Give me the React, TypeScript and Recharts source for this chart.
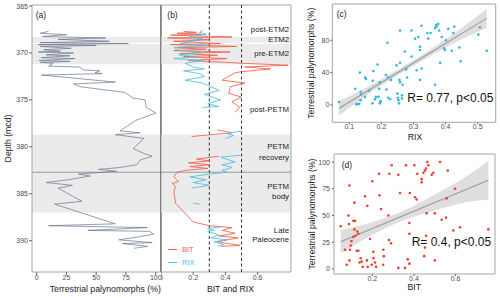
import React from 'react';
import {
  ScatterChart, ComposedChart, Scatter, Line, Area, XAxis, YAxis,
  ReferenceArea, ReferenceLine, Legend,
} from 'recharts';

const FONT = "'Liberation Sans', Arial, Helvetica, sans-serif";

// ---------- Panel (a): terrestrial palynomorphs (%) vs depth (mcd) ----------
const palyProfile: [number, number][] = [
  [367.7,10],[367.9,3],[368.05,25],[368.25,5],[368.4,58],[368.55,18],[368.75,61],[368.9,3],
  [369.0,77],[369.1,1.5],[369.2,50],[369.3,3],[369.5,29],[369.65,6],[369.8,20],[369.9,1.5],
  [370.0,31],[370.2,8],[370.3,28],[370.5,4],[370.6,32],[370.8,2],[370.9,28],[371.0,3],
  [371.1,14],[371.4,10],[371.5,36],[371.8,39],[371.9,53],[372.1,49],[372.2,55],[372.35,4],
  [373.1,66],[373.3,31],[373.6,37],[374.2,74],[374.8,81],[375.0,91],[375.8,92],[376.4,100],
  [377.0,87],[377.2,83],[378.3,70],[378.5,87],[378.7,66],[379.1,90],[380.2,81],[380.7,90],
  [381.0,97],[381.4,87],[381.9,84],[382.2,70],[382.4,52],[382.6,67],[382.9,35],[383.1,45],
  [383.5,27],[383.8,8],[384.1,30],[384.4,18],[385.8,38],[386.1,15],[388.2,66],[388.4,10],
  [388.6,93],[388.9,43],[389.0,95],[389.3,98],[389.6,85],[389.9,69],[390.2,97],[390.3,72],
  [390.6,93],[390.8,82],
];
const depthTicks = [365, 370, 375, 380, 385, 390];
const palyTicks = [0, 25, 50, 75, 100];

// ---------- Panel (b): BIT and RIX vs depth (null = gap) ----------
const bitProfile: ([number, number] | null)[] = [
  [367.7,0.14],[367.8,0.22],[367.9,0.10],[368.0,0.25],[368.1,0.06],[368.3,0.44],[368.4,0.04],
  [368.6,0.30],[368.75,0.08],[369.0,0.37],[369.1,0.06],[369.3,0.47],[369.45,0.10],[369.6,0.28],
  [369.75,0.08],[369.9,0.43],[370.05,0.12],[370.25,0.35],[370.4,0.14],[370.6,0.41],[370.8,0.17],
  [371.0,0.40],[371.1,0.51],[371.3,0.79],[371.5,0.52],[371.7,0.68],[372.0,0.50],[372.1,0.46],
  [372.9,0.38],[373.2,0.52],[373.6,0.43],[374.3,0.42],[374.7,0.50],[375.2,0.44],[375.8,0.49],
  [376.3,0.46],
  null,
  [378.2,0.35],[378.5,0.44],[378.9,0.19],
  null,
  [381.0,0.36],[381.3,0.22],[381.5,0.30],[381.7,0.17],[381.9,0.30],[382.1,0.18],[382.3,0.29],
  [382.5,0.15],[382.7,0.10],[383.2,0.08],[383.7,0.11],[383.9,0.07],[384.2,0.09],[384.8,0.08],
  [386.0,0.09],[388.0,0.20],[388.4,0.30],[388.6,0.44],[388.9,0.38],[389.2,0.46],[389.5,0.36],
  [389.7,0.48],[390.1,0.35],[390.5,0.49],[390.6,0.37],
];
const rixProfile: ([number, number] | null)[] = [
  [367.6,0.26],[367.8,0.24],[368.0,0.28],[368.3,0.17],[368.5,0.26],[369.0,0.12],[369.2,0.29],
  [369.4,0.08],[369.7,0.10],[369.9,0.25],[370.2,0.11],[370.4,0.22],[370.6,0.08],[370.8,0.26],
  [371.1,0.15],[371.5,0.20],[371.7,0.27],[371.9,0.14],[372.2,0.24],[372.5,0.27],[372.9,0.15],
  [373.2,0.26],[374.0,0.36],[374.4,0.27],[375.0,0.37],[375.4,0.29],[375.7,0.36],[375.8,0.26],
  null,
  [378.3,0.50],[378.6,0.41],[378.8,0.45],[379.1,0.40],
  null,
  [380.9,0.49],[381.1,0.37],[381.6,0.46],[381.9,0.38],[382.2,0.44],[382.5,0.38],[382.7,0.41],
  [382.9,0.30],[383.2,0.18],[383.5,0.28],[383.8,0.20],[384.1,0.30],[384.4,0.19],
  null,
  [386.0,0.20],[386.1,0.24],
  null,
  [388.5,0.38],[388.7,0.29],[388.9,0.33],[389.0,0.29],[389.4,0.36],[389.7,0.31],[389.9,0.41],
  [390.1,0.33],[390.4,0.39],[390.6,0.35],
];
const bitRixTicks = [0, 0.2, 0.4, 0.6];
const thresholds = [0.3, 0.5];
const bandTop = [368.3, 369.05, 378.7];
const bandBottom = [368.9, 371.2, 387.0];
const petmOnset = 382.7;
const stageNames = ['post-ETM2', 'ETM2', 'pre-ETM2', 'post-PETM', 'PETM', 'recovery', 'PETM', 'body', 'Late', 'Paleocene'];
const stageDepths = [367.48, 368.51, 370.04, 375.97, 379.98, 381.11, 384.24, 385.23, 388.85, 389.85];
const legendNames = ['BIT', 'RIX'];

// ---------- Panel (c): terrestrial palynomorphs vs RIX ----------
const rixScatter: [number, number][] = [
  [0.068,3.7],[0.118,20],[0.122,1],[0.127,1],[0.131,1.5],[0.133,40],[0.135,16],[0.135,6],[0.137,13],
  [0.149,34],[0.152,32],[0.149,10],[0.162,18],[0.173,30],[0.175,42],[0.172,2],[0.18,7],[0.183,10],
  [0.188,50],[0.193,20],[0.195,28],[0.195,2],[0.197,5],[0.191,10],[0.198,4],[0.214,37],[0.216,19],
  [0.219,77],[0.221,34],[0.221,9],[0.227,7],[0.23,31],[0.247,49],[0.25,14],[0.251,9],[0.253,6],
  [0.255,2],[0.258,92],[0.256,31],[0.258,28],[0.258,52],[0.264,8],[0.266,25],[0.264,12],[0.273,66],
  [0.277,44],[0.28,34],[0.294,92],[0.294,60],[0.305,82],[0.31,43],[0.315,84],[0.32,72],[0.32,68],
  [0.32,31],[0.325,45],[0.325,98],[0.343,89],[0.346,82],[0.353,89],[0.367,95],[0.37,99],[0.377,100],
  [0.38,92],[0.372,97],[0.367,25],[0.383,52],[0.388,84],[0.395,70],[0.398,68],[0.401,80],[0.408,94],
  [0.419,67],[0.424,89],[0.427,97],[0.443,71],[0.447,54],[0.502,87],[0.507,96],[0.528,67],
];
const rixFitX = [0.068, 0.15, 0.25, 0.35, 0.45, 0.528];
const rixFitY = [-4, 15.8, 39.9, 64.0, 88.2, 107];
const rixFitLo = [-13, 10.8, 36.4, 60, 81.2, 95.5];
const rixFitHi = [5, 20.8, 43.4, 68, 95.2, 118.5];
const rixTicks = [0.1, 0.2, 0.3, 0.4, 0.5];
const palyTicksC = [0, 40, 80];

// ---------- Panel (d): terrestrial palynomorphs vs BIT ----------
const bitScatter: [number, number][] = [
  [0.048,40],[0.069,18],[0.077,4],[0.085,50],[0.09,78],[0.088,42],[0.09,8],[0.093,18],[0.096,22],
  [0.1,26],[0.109,30],[0.109,45],[0.114,62],[0.117,45],[0.114,37],[0.12,31],[0.128,35],[0.125,17],
  [0.133,33],[0.133,17],[0.139,6],[0.144,10],[0.149,7],[0.154,2],[0.165,68],[0.176,59],[0.174,8],
  [0.178,2],[0.189,28],[0.197,4],[0.2,82],[0.205,16],[0.206,10],[0.213,6],[0.218,2],[0.232,89],
  [0.234,69],[0.242,56],[0.253,18],[0.255,12],[0.252,4],[0.28,27],[0.277,50],[0.282,89],[0.293,97],
  [0.29,24],[0.325,1],[0.357,1],[0.416,89],[0.325,88],[0.333,71],[0.362,97],[0.402,97],[0.405,67],
  [0.413,65],[0.38,71],[0.378,43],[0.378,33],[0.37,9],[0.378,5],[0.437,84],[0.437,81],[0.445,90],
  [0.453,92],[0.458,94],[0.464,100],[0.469,97],[0.461,52],[0.458,31],[0.453,20],[0.449,12],
  [0.485,88],[0.493,90],[0.5,52],[0.5,8],[0.525,100],[0.533,46],[0.554,48],[0.557,66],[0.562,92],
  [0.589,36],[0.597,75],[0.621,39],[0.757,37],
];
const bitFitX = [0.048, 0.2, 0.35, 0.5, 0.65, 0.757];
const bitFitY = [25.5, 37.8, 50.0, 62.2, 74.3, 83];
const bitFitLo = [14.5, 31.8, 45.5, 54.7, 62.3, 65];
const bitFitHi = [36.5, 43.8, 54.5, 69.7, 86.3, 101];
const bitTicks = [0.2, 0.4, 0.6];
const palyTicksD = [0, 25, 50, 75, 100];

// ---------- helpers ----------
const C_LINE = '#67728c';
const C_BIT = '#f0604b';
const C_RIX = '#4cbfdb';
const C_BAND = '#ebebeb';
const C_FRAME = '#a6a6a6';

const tickStyle = { fontSize: 7, fill: '#4d4d4d', fontFamily: FONT };
const noDot = () => <g />;
const dotOf = (color: string) => (p: any) => <circle cx={p.cx} cy={p.cy} r={1.3} fill={color} />;

function toSegments(profile: ([number, number] | null)[]) {
  const out: { d: number; v: number }[][] = [];
  let cur: { d: number; v: number }[] = [];
  profile.forEach((p) => {
    if (p === null) {
      if (cur.length) out.push(cur);
      cur = [];
    } else cur.push({ d: p[0], v: p[1] });
  });
  if (cur.length) out.push(cur);
  return out;
}

const palyData = palyProfile.map(([d, v]) => ({ d, v }));
const bitSegs = toSegments(bitProfile);
const rixSegs = toSegments(rixProfile);
const rixPoints = rixScatter.map(([x, y]) => ({ x, y }));
const bitPoints = bitScatter.map(([x, y]) => ({ x, y }));
const rixFit = rixFitX.map((x, i) => ({ x, fit: rixFitY[i], lo: rixFitLo[i], hi: rixFitHi[i] }));
const bitFit = bitFitX.map((x, i) => ({ x, fit: bitFitY[i], lo: bitFitLo[i], hi: bitFitHi[i] }));

const DEPTH_DOM: [number, number] = [364.89, 393.33];
const A_DOM: [number, number] = [-3.9, 104.4];
const B_DOM: [number, number] = [0, 0.807];
const C_X: [number, number] = [0.047, 0.556];
const C_Y: [number, number] = [-21.4, 124.8];
const D_X: [number, number] = [0.016, 0.789];
const D_Y: [number, number] = [-4.7, 107.5];

const legendColors = [C_BIT, C_RIX];
const renderLegend = () => (
  <div style={{ fontFamily: FONT, fontSize: 7.5 }}>
    {legendNames.map((n, i) => (
      <div key={n} style={{ display: 'flex', alignItems: 'center', height: 13 }}>
        <svg width={10} height={13}>
          <line x1={0} x2={9} y1={6.5} y2={6.5} stroke={legendColors[i]} strokeWidth={1} />
        </svg>
        <span style={{ color: legendColors[i], marginLeft: 4 }}>{n}</span>
      </div>
    ))}
  </div>
);

export default function App() {
  const bandEls = (xDom: [number, number]) =>
    bandTop.map((t, i) => (
      <ReferenceArea key={'band' + i} x1={xDom[0]} x2={xDom[1]} y1={t} y2={bandBottom[i]}
        fill={C_BAND} fillOpacity={1} stroke="none" ifOverflow="hidden" />
    ));

  return (
    <div style={{ position: 'absolute', left: 0, top: 0, width: 500, height: 298, background: '#fff', overflow: 'hidden' }}>
      {/* Panel (a) */}
      <div style={{ position: 'absolute', left: 0, top: 0 }}>
        <ScatterChart width={162} height={298} margin={{ top: 5, right: 1, bottom: 0, left: 0 }}>
          <XAxis type="number" dataKey="v" domain={A_DOM} ticks={palyTicks} allowDataOverflow interval={0}
            height={26} tickSize={3} tickMargin={0} axisLine={false} tickLine={{ stroke: '#666' }} tick={tickStyle} />
          <YAxis type="number" dataKey="d" domain={DEPTH_DOM} reversed ticks={depthTicks} allowDataOverflow interval={0}
            width={32} tickSize={3} tickMargin={1} axisLine={false} tickLine={{ stroke: '#666' }} tick={tickStyle} />
          {bandEls(A_DOM)}
          <ReferenceLine y={petmOnset} stroke="#9a9a9a" strokeWidth={1} />
          <ReferenceArea x1={A_DOM[0]} x2={A_DOM[1]} y1={DEPTH_DOM[0]} y2={DEPTH_DOM[1]} fill="none" stroke={C_FRAME} strokeWidth={1} />
          <ReferenceLine x={A_DOM[1]} stroke="#5a5a5a" strokeWidth={1.3} />
          <Scatter data={palyData} line={{ stroke: C_LINE, strokeWidth: 0.7 }} fill={C_LINE} shape={noDot} isAnimationActive={false} />
        </ScatterChart>
      </div>

      {/* Panel (b) */}
      <div style={{ position: 'absolute', left: 161, top: 0 }}>
        <ScatterChart width={131} height={298} margin={{ top: 5, right: 1, bottom: 0, left: 0 }}>
          <XAxis type="number" dataKey="v" domain={B_DOM} ticks={bitRixTicks} allowDataOverflow interval={0}
            height={26} tickSize={3} tickMargin={0} axisLine={false} tickLine={{ stroke: '#666' }} tick={tickStyle} />
          <YAxis type="number" dataKey="d" domain={DEPTH_DOM} reversed allowDataOverflow hide />
          {bandEls(B_DOM)}
          <ReferenceLine y={petmOnset} stroke="#9a9a9a" strokeWidth={1} />
          {thresholds.map((t) => (
            <ReferenceLine key={'th' + t} x={t} stroke="#333" strokeWidth={1} strokeDasharray="3 2.5" />
          ))}
          <ReferenceArea x1={B_DOM[0]} x2={B_DOM[1]} y1={DEPTH_DOM[0]} y2={DEPTH_DOM[1]} fill="none" stroke={C_FRAME} strokeWidth={1} />
          {stageNames.map((n, i) => (
            <ReferenceLine key={'st' + i} y={stageDepths[i]} stroke="none"
              label={{ value: n, position: 'insideRight', offset: 2, fontSize: 7.8, fill: '#1a1a1a', fontFamily: FONT }} />
          ))}
          {bitSegs.map((s, i) => (
            <Scatter key={'bit' + i} data={s} line={{ stroke: C_BIT, strokeWidth: 0.85 }} fill={C_BIT} shape={noDot} isAnimationActive={false} />
          ))}
          {rixSegs.map((s, i) => (
            <Scatter key={'rix' + i} data={s} line={{ stroke: C_RIX, strokeWidth: 0.85 }} fill={C_RIX} shape={noDot} isAnimationActive={false} />
          ))}
          <Legend layout="vertical" align="center" verticalAlign="middle" content={renderLegend}
            wrapperStyle={{ left: 7, top: 243, width: 40, height: 26 }} />
        </ScatterChart>
      </div>

      {/* Panel (c) */}
      <div style={{ position: 'absolute', left: 300, top: 0 }}>
        <ComposedChart width={200} height={145} data={rixFit} margin={{ top: 4, right: 4.3, bottom: 0, left: 0 }}>
          <XAxis type="number" dataKey="x" domain={C_X} ticks={rixTicks} allowDataOverflow interval={0}
            height={22.7} tickSize={2} tickMargin={0} axisLine={false} tickLine={{ stroke: '#666' }} tick={tickStyle} />
          <YAxis type="number" domain={C_Y} ticks={palyTicksC} allowDataOverflow interval={0}
            width={32.3} tickSize={2} tickMargin={1} axisLine={false} tickLine={{ stroke: '#666' }} tick={tickStyle} />
          <Scatter data={rixPoints} dataKey="y" fill={C_RIX} shape={dotOf('#38b6d6')} isAnimationActive={false} />
          <Area dataKey={(d: any) => [d.lo, d.hi]} type="monotone" fill="#bdbdbd" fillOpacity={0.5} stroke="none" isAnimationActive={false} />
          <Line dataKey="fit" type="linear" stroke="#9a9a9a" strokeWidth={1.1} dot={false} isAnimationActive={false} />
          <ReferenceArea x1={C_X[0]} x2={C_X[1]} y1={C_Y[0]} y2={C_Y[1]} fill="none" stroke={C_FRAME} strokeWidth={1} />
        </ComposedChart>
      </div>

      {/* Panel (d) */}
      <div style={{ position: 'absolute', left: 300, top: 150 }}>
        <ComposedChart width={200} height={148} data={bitFit} margin={{ top: 4, right: 5, bottom: 0, left: 0 }}>
          <XAxis type="number" dataKey="x" domain={D_X} ticks={bitTicks} allowDataOverflow interval={0}
            height={24} tickSize={2} tickMargin={0} axisLine={false} tickLine={{ stroke: '#666' }} tick={tickStyle} />
          <YAxis type="number" domain={D_Y} ticks={palyTicksD} allowDataOverflow interval={0}
            width={34} tickSize={2} tickMargin={2} axisLine={false} tickLine={{ stroke: '#666' }} tick={tickStyle} />
          <Scatter data={bitPoints} dataKey="y" fill={C_BIT} shape={dotOf('#e8402c')} isAnimationActive={false} />
          <Area dataKey={(d: any) => [d.lo, d.hi]} type="monotone" fill="#bdbdbd" fillOpacity={0.5} stroke="none" isAnimationActive={false} />
          <Line dataKey="fit" type="linear" stroke="#9a9a9a" strokeWidth={1.1} dot={false} isAnimationActive={false} />
          <ReferenceArea x1={D_X[0]} x2={D_X[1]} y1={D_Y[0]} y2={D_Y[1]} fill="none" stroke={C_FRAME} strokeWidth={1} />
        </ComposedChart>
      </div>

      {/* Titles and annotations */}
      <svg width={500} height={298} style={{ position: 'absolute', left: 0, top: 0, pointerEvents: 'none' }}
        fontFamily={FONT}>
        <text x={11} y={138.5} transform="rotate(-90 11 138.5)" textAnchor="middle" fontSize={8.7} fill="#1a1a1a">Depth (mcd)</text>
        <text x={105.3} y={291.5} textAnchor="middle" fontSize={8.7} fill="#1a1a1a">Terrestrial palynomorphs (%)</text>
        <text x={230.5} y={291.5} textAnchor="middle" fontSize={8.7} fill="#1a1a1a">BIT and RIX</text>
        <text x={35.7} y={17.8} fontSize={8.5} fill="#1a1a1a">(a)</text>
        <text x={167.3} y={17.8} fontSize={8.5} fill="#1a1a1a">(b)</text>
        <text x={336.7} y={17} fontSize={8.5} fill="#1a1a1a">(c)</text>
        <text x={341.7} y={168.3} fontSize={8.5} fill="#1a1a1a">(d)</text>
        <text x={314.5} y={63.2} transform="rotate(-90 314.5 63.2)" textAnchor="middle" fontSize={8.7} fill="#1a1a1a">Terrestrial palynomorphs (%)</text>
        <text x={314.5} y={214} transform="rotate(-90 314.5 214)" textAnchor="middle" fontSize={8.7} fill="#1a1a1a">Terrestrial palynomorphs (%)</text>
        <text x={415} y={139.7} textAnchor="middle" fontSize={8.7} fill="#1a1a1a">RIX</text>
        <text x={414.3} y={289.7} textAnchor="middle" fontSize={8.7} fill="#1a1a1a">BIT</text>
        <text x={407.3} y={102} fontSize={12} fill="#111">R= 0.77, p&lt;0.05</text>
        <text x={411.7} y={246} fontSize={12} fill="#111">R= 0.4, p&lt;0.05</text>
      </svg>
    </div>
  );
}
